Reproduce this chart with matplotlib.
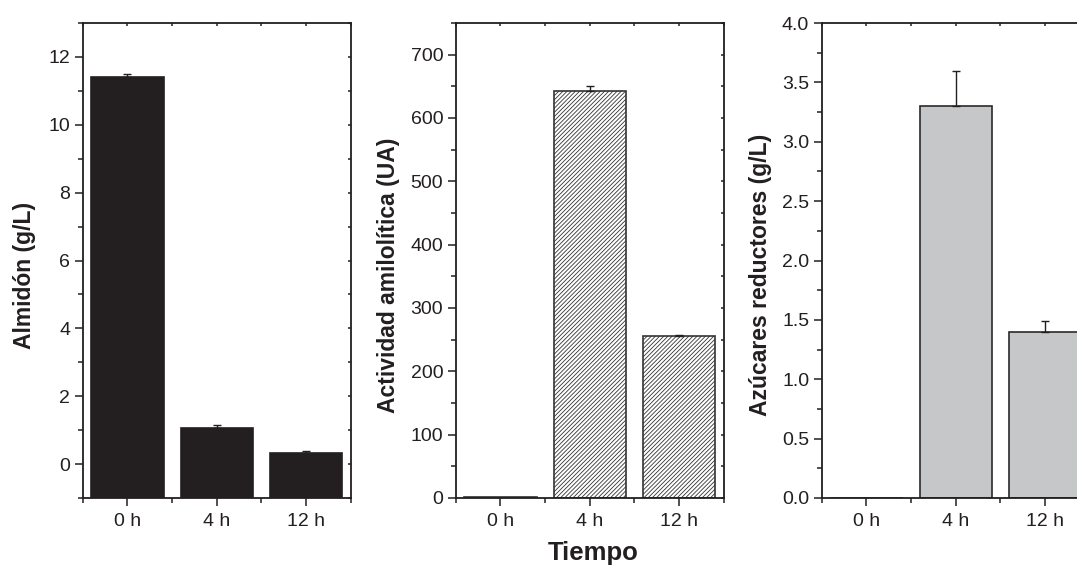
import matplotlib
matplotlib.use("Agg")
import matplotlib.pyplot as plt
from matplotlib.ticker import MultipleLocator, FixedLocator
from matplotlib.lines import TICKDOWN, TICKLEFT
import numpy as np

# ---- data ----
categories = ['0 h', '4 h', '12 h']
almidon = [11.4, 1.05, 0.34]
almidon_err = [0.1, 0.09, 0.06]
actividad = [1, 642, 256]
actividad_err = [0, 8, 1]
azucares = [0, 3.3, 1.4]
azucares_err = [0, 0.3, 0.09]

ylabels = ['Almidón (g/L)', 'Actividad amilolítica (UA)', 'Azúcares reductores (g/L)']
xlabel = 'Tiempo'

INK = '#231f20'
plt.rcParams['font.family'] = ['Liberation Sans', 'DejaVu Sans']
plt.rcParams['hatch.linewidth'] = 0.6
plt.rcParams['hatch.color'] = '#3a3a3a'

fig = plt.figure(figsize=(10.77, 5.66), dpi=100)
H = 566.0
W = 1077.0
bottom = 1 - 498 / H
height = 475 / H
width = 268 / W
lefts = [82.7 / W, 455.7 / W, 821.7 / W]
label_x = [-0.219, -0.251, -0.228]

x = np.arange(len(categories))
bw = 0.81

configs = [
    dict(vals=almidon, err=almidon_err, ylim=(-1, 13), ticks=list(range(0, 13, 2)), minor=1,
         fc=INK, ec=INK, hatch=None, fmt='{:.0f}'),
    dict(vals=actividad, err=actividad_err, ylim=(0, 750), ticks=list(range(0, 701, 100)), minor=50,
         fc='white', ec='#333333', hatch='////////', fmt='{:.0f}'),
    dict(vals=azucares, err=azucares_err, ylim=(0, 4.0), ticks=[0.5 * k for k in range(9)], minor=0.25,
         fc='#c6c7c9', ec='#2a2a2a', hatch=None, fmt='{:.1f}'),
]

for i, cfg in enumerate(configs):
    ax = fig.add_axes([lefts[i], bottom, width, height])
    y0 = cfg['ylim'][0]
    vals = np.array(cfg['vals'], dtype=float)
    err = np.array(cfg['err'], dtype=float)
    ax.bar(x, vals - y0, bottom=y0, width=bw, color=cfg['fc'], edgecolor=cfg['ec'],
           linewidth=1.2, hatch=cfg['hatch'], zorder=2)
    m = err > 0
    ax.errorbar(x[m], vals[m], yerr=[np.zeros(m.sum()), err[m]], fmt='none',
                ecolor=INK, elinewidth=1.0, capsize=3, capthick=1.0, zorder=3)
    ax.set_xlim(-0.5, 2.5)
    ax.set_ylim(*cfg['ylim'])
    ax.set_xticks(x)
    ax.set_xticklabels(categories)
    ax.xaxis.set_minor_locator(FixedLocator([-0.5, 0.5, 1.5, 2.5]))
    ax.set_yticks(cfg['ticks'])
    ax.set_yticklabels([cfg['fmt'].format(t) for t in cfg['ticks']])
    ax.yaxis.set_minor_locator(MultipleLocator(cfg['minor']))
    for sp in ax.spines.values():
        sp.set_linewidth(1.3)
        sp.set_color(INK)
    ax.tick_params(axis='both', which='major', direction='out', length=6, width=1.1,
                   colors=INK, labelsize=14, labelcolor=INK, pad=3)
    ax.tick_params(axis='both', which='minor', direction='out', length=3.5, width=1.1,
                   colors=INK)
    ax.tick_params(axis='x', which='major', pad=5)
    ax.tick_params(which='both', top=True, right=True)
    # mirrored ticks on top/right: small and inward
    nminor_y = len(ax.yaxis.get_minorticklocs())
    nminor_x = len(ax.xaxis.get_minorticklocs())
    for t in ax.xaxis.get_major_ticks() + ax.xaxis.get_minor_ticks(nminor_x):
        t.tick2line.set_marker(TICKDOWN)
        t.tick2line.set_markersize(2.5)
    for t in ax.yaxis.get_major_ticks() + ax.yaxis.get_minor_ticks(nminor_y):
        t.tick2line.set_marker(TICKLEFT)
        t.tick2line.set_markersize(2.5)
    ax.set_ylabel(ylabels[i], fontsize=16.5, fontweight='bold', color=INK,
                  va='center')
    ax.yaxis.set_label_coords(label_x[i], 0.469)

fig.text(593 / W, 1 - 560 / H, xlabel, ha='center', va='baseline',
         fontsize=18.5, fontweight='bold', color=INK)

fig.savefig('out.png', dpi=100)
